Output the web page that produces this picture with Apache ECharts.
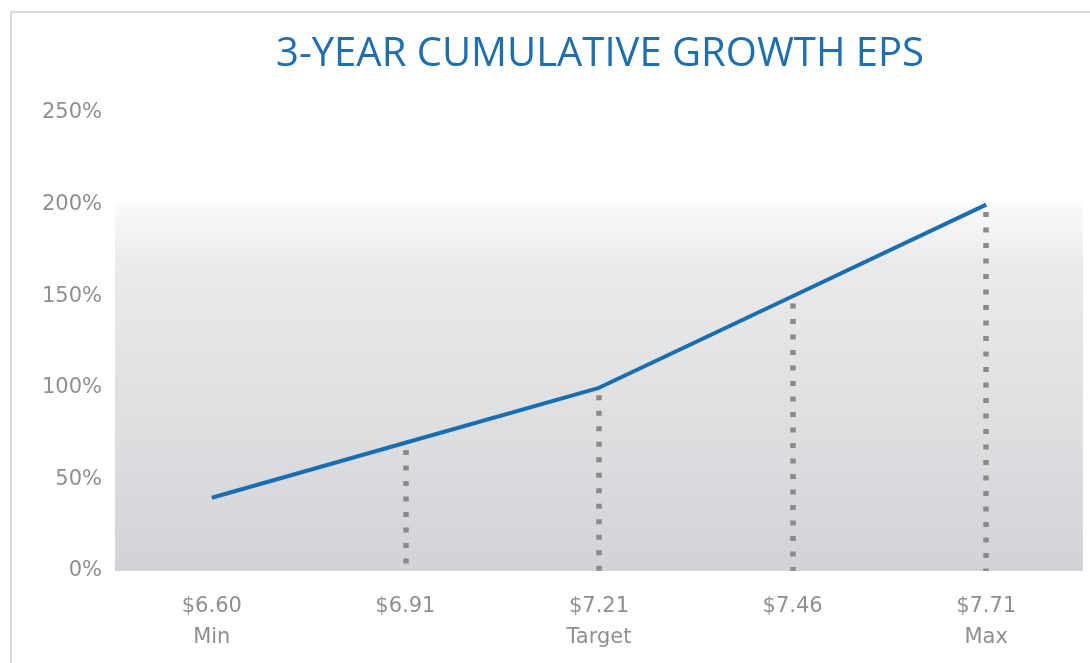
<!DOCTYPE html>
<html><head><meta charset="utf-8">
<script src="https://cdn.jsdelivr.net/npm/echarts@6/dist/echarts.min.js"></script>
<style>html,body{margin:0;padding:0;background:#fff}#c{width:1090px;height:663px}</style>
</head><body><div id="c"></div>
<script>
const titleText = '3-YEAR CUMULATIVE GROWTH EPS';
const categories = ['$6.60\nMin', '$6.91', '$7.21\nTarget', '$7.46', '$7.71\nMax'];
const growth = [40, 70, 100, 150, 200];
const showDrop = [false, true, true, true, true];
const yTicks = [0, 50, 100, 150, 200, 250];

const chart = echarts.init(document.getElementById('c'));
const dropLines = [];
growth.forEach((v, i) => {
  if (showDrop[i]) dropLines.push([{coord: [i, v - 4]}, {coord: [i, 0]}]);
});
chart.setOption({
  animation: false,
  backgroundColor: '#fff',
  title: {
    text: titleText, left: 595, top: 30, textAlign: 'center',
    textStyle: {color: '#1f6fae', fontFamily: 'Open Sans', fontWeight: 'normal', fontSize: 40}
  },
  graphic: [{
    type: 'rect', z: -10, silent: true,
    shape: {x: 11, y: 12, width: 1100, height: 700},
    style: {fill: 'transparent', stroke: '#d9d9d9', lineWidth: 2}
  }],
  grid: {
    left: 115, right: 7, top: 113, bottom: 92, show: true, borderWidth: 0,
    backgroundColor: {
      type: 'linear', x: 0, y: 0, x2: 0, y2: 1,
      colorStops: [
        {offset: 0, color: '#ffffff'},
        {offset: 0.19, color: '#ffffff'},
        {offset: 0.2, color: '#fafafa'},
        {offset: 0.33, color: '#eaeaeb'},
        {offset: 0.7, color: '#dddee0'},
        {offset: 1, color: '#d2d3d6'}
      ]
    }
  },
  xAxis: {
    type: 'category', data: categories, boundaryGap: true,
    axisLine: {show: false}, axisTick: {show: false},
    axisLabel: {color: '#8f8f8f', fontFamily: 'DejaVu Sans', fontSize: 21, lineHeight: 31, margin: 20}
  },
  yAxis: {
    type: 'value', min: 0, max: 250, interval: 50,
    splitLine: {show: false}, axisLine: {show: false}, axisTick: {show: false},
    axisLabel: {color: '#8f8f8f', fontFamily: 'DejaVu Sans', fontSize: 21, margin: 13,
      formatter: v => yTicks.includes(v) ? v + '%' : ''}
  },
  series: [{
    type: 'line', data: growth, symbol: 'none',
    lineStyle: {color: '#1a6eb0', width: 4},
    z: 5,
    markLine: {
      silent: true, symbol: 'none', label: {show: false},
      lineStyle: {color: '#8a8a8a', width: 5.5, type: [5, 10.5]},
      data: dropLines
    }
  }]
});
</script></body></html>
